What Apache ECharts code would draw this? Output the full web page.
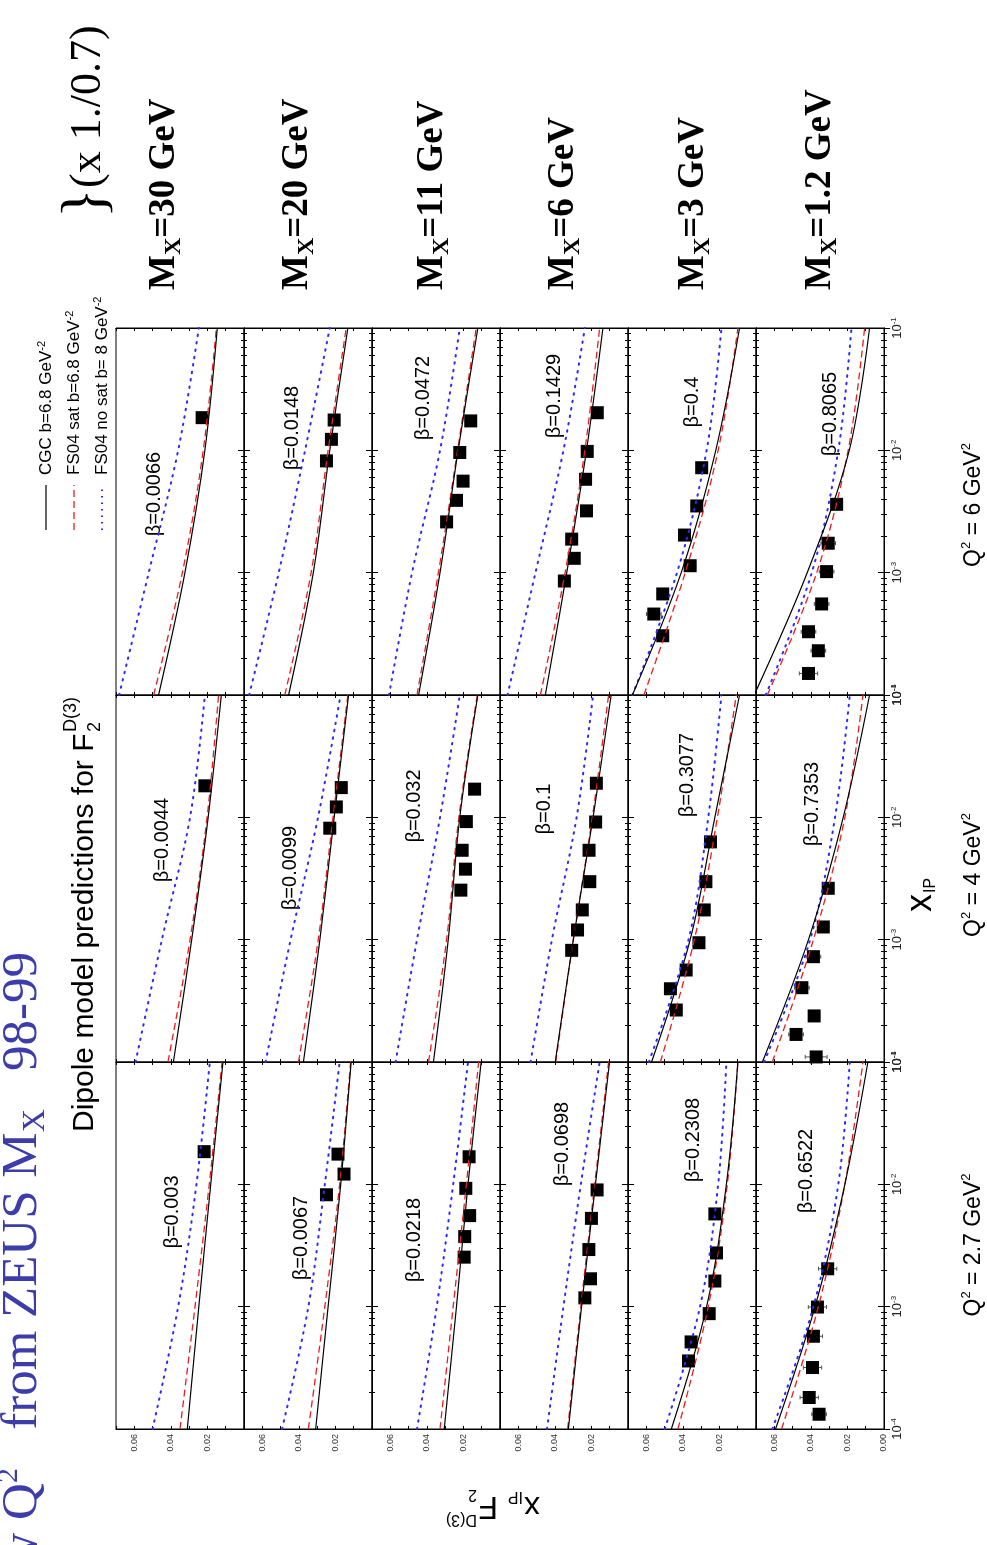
<!DOCTYPE html>
<html><head><meta charset="utf-8">
<script src="https://cdn.jsdelivr.net/npm/echarts@6/dist/echarts.min.js"></script>
<style>html,body{margin:0;padding:0;background:#fff}#c{width:987px;height:1545px}</style>
</head><body><div id="c"></div>
<script>
// ---------------- DATA ----------------
const q2Values = ['6', '4', '2.7'];              // blocks, top to bottom
const mxValues = ['30', '20', '11', '6', '3', '1.2']; // columns, left to right
const betaQ6  = ['0.0066', '0.0148', '0.0472', '0.1429', '0.4', '0.8065'];
const betaQ4  = ['0.0044', '0.0099', '0.032', '0.1', '0.3077', '0.7353'];
const betaQ27 = ['0.003', '0.0067', '0.0218', '0.0698', '0.2308', '0.6522'];
const xipGrid = [1e-4, 1e-3, 1e-2, 1e-1];
const valueTicks = [0, 0.02, 0.04, 0.06];

// model curves x_IP F2^D(3) at xipGrid, one row per M_X column
const cgcQ6 = [[0.0467,0.0323,0.0214,0.0146],[0.0456,0.0321,0.0231,0.0132],[0.0445,0.0328,0.0229,0.0121],[0.0452,0.0335,0.0227,0.0137],[0.0676,0.0409,0.0220,0.0090],[0.0710,0.0420,0.0190,0.0079]];
const satQ6 = [[0.0494,0.0337,0.0223,0.0151],[0.0477,0.0333,0.0240,0.0141],[0.0454,0.0337,0.0232,0.0130],[0.0479,0.0344,0.0236,0.0155],[0.0613,0.0387,0.0207,0.0099],[0.0638,0.0368,0.0196,0.0106]];
const nosatQ6 = [[0.0683,0.0521,0.0360,0.0247],[0.0672,0.0510,0.0366,0.0231],[0.0607,0.0481,0.0328,0.0220],[0.0659,0.0506,0.0353,0.0236],[0.0676,0.0432,0.0270,0.0189],[0.0647,0.0395,0.0250,0.0178]];
const cgcQ4 = [[0.0386,0.0286,0.0196,0.0124],[0.0375,0.0285,0.0207,0.0128],[0.0364,0.0283,0.0220,0.0121],[0.0398,0.0299,0.0191,0.0092],[0.0571,0.0360,0.0225,0.0090],[0.0665,0.0413,0.0223,0.0079]];
const satQ4 = [[0.0416,0.0295,0.0202,0.0139],[0.0402,0.0294,0.0213,0.0132],[0.0391,0.0292,0.0225,0.0124],[0.0395,0.0299,0.0195,0.0106],[0.0523,0.0337,0.0211,0.0108],[0.0611,0.0386,0.0214,0.0115]];
const nosatQ4 = [[0.0593,0.0449,0.0295,0.0214],[0.0582,0.0445,0.0295,0.0172],[0.0571,0.0454,0.0328,0.0220],[0.0533,0.0416,0.0281,0.0191],[0.0586,0.0369,0.0261,0.0189],[0.0656,0.0404,0.0268,0.0187]];
const cgcQ27 = [[0.0310,0.0247,0.0182,0.0115],[0.0308,0.0240,0.0171,0.0114],[0.0305,0.0238,0.0175,0.0103],[0.0326,0.0254,0.0178,0.0101],[0.0463,0.0270,0.0162,0.0099],[0.0593,0.0377,0.0214,0.0088]];
const satQ27 = [[0.0350,0.0268,0.0190,0.0120],[0.0348,0.0258,0.0177,0.0117],[0.0328,0.0256,0.0184,0.0117],[0.0330,0.0258,0.0182,0.0106],[0.0427,0.0261,0.0157,0.0099],[0.0560,0.0359,0.0214,0.0115]];
const nosatQ27 = [[0.0500,0.0360,0.0260,0.0187],[0.0492,0.0348,0.0258,0.0177],[0.0454,0.0346,0.0256,0.0175],[0.0443,0.0353,0.0258,0.0155],[0.0499,0.0306,0.0207,0.0162],[0.0611,0.0386,0.0250,0.0187]];

// ZEUS points: [x_IP, x_IP F2^D(3), error]
const dataQ6 = [
 [[0.0185,0.0229,0.002]],
 [[0.0177,0.0207,0.003],[0.0123,0.0222,0.002],[0.0082,0.0249,0.002]],
 [[0.0174,0.0160,0.003],[0.0096,0.0220,0.002],[0.0056,0.0202,0.002],[0.0039,0.0238,0.002],[0.0026,0.0292,0.002]],
 [[0.000855,0.0348,0.002],[0.00131,0.0294,0.002],[0.00188,0.0308,0.002],[0.0032,0.0227,0.002],[0.0058,0.0232,0.002],[0.0098,0.0223,0.002],[0.0203,0.0168,0.002]],
 [[0.000305,0.0510,0.003],[0.000459,0.0559,0.004],[0.00067,0.0510,0.003],[0.00114,0.0360,0.003],[0.00203,0.0391,0.003],[0.00351,0.0324,0.003],[0.00721,0.0297,0.002]],
 [[0.00015,0.0413,0.005],[0.00023,0.0359,0.004],[0.000329,0.0413,0.004],[0.000555,0.0341,0.004],[0.00102,0.0314,0.004],[0.00174,0.0305,0.004],[0.00362,0.0259,0.003]]
];
const dataQ4 = [
 [[0.0181,0.0214,0.002]],
 [[0.0175,0.0168,0.003],[0.01216,0.0195,0.002],[0.00815,0.0231,0.002]],
 [[0.0170,0.0139,0.002],[0.00923,0.0184,0.002],[0.00538,0.0207,0.002],[0.00377,0.0189,0.002],[0.00254,0.0214,0.002]],
 [[0.000818,0.0308,0.002],[0.0012,0.0276,0.002],[0.00175,0.0250,0.002],[0.00298,0.0209,0.002],[0.00538,0.0213,0.002],[0.00916,0.0177,0.002],[0.0190,0.0173,0.002]],
 [[0.000266,0.0436,0.003],[0.000397,0.0468,0.003],[0.000565,0.0382,0.003],[0.000944,0.0312,0.002],[0.00175,0.0283,0.002],[0.00298,0.0274,0.002],[0.0063,0.0249,0.002]],
 [[0.00011,0.0371,0.006],[0.000168,0.0481,0.004],[0.000238,0.0382,0.003],[0.000405,0.0449,0.004],[0.000726,0.0386,0.004],[0.00127,0.0332,0.003],[0.00263,0.0305,0.003]]
];
const dataQ27 = [
 [[0.0185,0.0218,0.003]],
 [[0.01766,0.0186,0.003],[0.01213,0.0153,0.002],[0.00822,0.0249,0.002]],
 [[0.00254,0.0196,0.002],[0.00374,0.0193,0.002],[0.00555,0.0166,0.002],[0.00927,0.0187,0.002],[0.0168,0.0169,0.002]],
 [[0.00118,0.0236,0.002],[0.00169,0.0205,0.002],[0.00293,0.0214,0.002],[0.00527,0.0200,0.002],[0.0090,0.0169,0.002]],
 [[0.00036,0.0369,0.002],[0.000515,0.0355,0.002],[0.000877,0.0256,0.002],[0.00162,0.0225,0.002],[0.00275,0.0216,0.002],[0.00573,0.0225,0.002]],
 [[0.000132,0.0355,0.004],[0.000181,0.0409,0.005],[0.000318,0.0391,0.005],[0.000573,0.0386,0.005],[0.000993,0.0364,0.005],[0.00204,0.0308,0.005]]
];

// ---------------- LAYOUT / STYLE ----------------
const L0 = 116, PW = 128, PH = 367, TOPS = [328, 695, 1062];
const betaPos = [
  [[154,494],[292,428],[423,398],[554,396],[692,402],[830,414]],
  [[162,840],[290,868],[414,806],[544,809],[687,775],[812,804]],
  [[172,1212],[301,1238],[414,1240],[562,1144],[693,1140],[806,1171]]
];
const mxX = [164, 297, 432, 563, 693, 820];
const SANS = 'Liberation Sans, Arial, sans-serif';
const SERIF = 'Liberation Serif, Times New Roman, serif';

const blocks = [
  {beta: betaQ6, cgc: cgcQ6, sat: satQ6, nosat: nosatQ6, data: dataQ6},
  {beta: betaQ4, cgc: cgcQ4, sat: satQ4, nosat: nosatQ4, data: dataQ4},
  {beta: betaQ27, cgc: cgcQ27, sat: satQ27, nosat: nosatQ27, data: dataQ27}
];

const grid = [], xAxis = [], yAxis = [], series = [], graphic = [];
let gi = 0;
blocks.forEach((blk, b) => {
  for (let c = 0; c < 6; c++) {
    grid.push({left: L0 + PW * c, top: TOPS[b], width: PW, height: PH,
      show: true, borderColor: '#000', borderWidth: 1, backgroundColor: 'transparent'});
    const lastCol = c === 5;
    const xBase = {type: 'value', gridIndex: gi, min: 0, max: 0.07, interval: 0.01, inverse: true,
      splitLine: {show: false},
      axisLine: {show: true, lineStyle: {color: '#000', width: 1}},
      axisTick: {show: true, inside: true, length: 3, lineStyle: {color: '#000'}}};
    xAxis.push(Object.assign({}, xBase, {position: 'bottom',
      axisLabel: {show: b === 2, rotate: 90, fontSize: 9, color: '#333', fontFamily: SANS, margin: 5,
        formatter: v => {
          const k = Math.round(v * 100);
          const idx = valueTicks.findIndex(t => Math.round(t * 100) === k);
          if (idx < 0) return '';
          if (k === 0 && !lastCol) return '';
          return valueTicks[idx].toFixed(2);
        }}}));
    xAxis.push(Object.assign({}, xBase, {position: 'top', axisLabel: {show: false}}));
    const yBase = {type: 'log', logBase: 10, gridIndex: gi, min: 1e-4, max: 1e-1,
      splitLine: {show: false},
      axisLine: {show: true, lineStyle: {color: '#000', width: 1}},
      axisTick: {show: true, inside: true, length: 6, lineStyle: {color: '#000'}},
      minorTick: {show: true, splitNumber: 9, length: 3, lineStyle: {color: '#000'}}};
    yAxis.push(Object.assign({}, yBase, {position: 'right',
      axisLabel: {show: lastCol, rotate: 90, margin: 6, showMaxLabel: b === 0, showMinLabel: true,
        formatter: v => '{b|10}{s|' + Math.round(Math.log10(v)) + '}',
        rich: {b: {fontSize: 13, fontFamily: SANS, color: '#222'},
               s: {fontSize: 8, fontFamily: SANS, color: '#222', verticalAlign: 'top', padding: [0, 0, 7, 0]}}}}));
    yAxis.push(Object.assign({}, yBase, {position: 'left', axisLabel: {show: false}}));

    const xa = 2 * gi, ya = 2 * gi;
    const mk = (arr) => xipGrid.map((x, i) => [arr[i], x]);
    series.push({type: 'line', xAxisIndex: xa, yAxisIndex: ya, data: mk(blk.nosat[c]), symbol: 'none',
      smooth: 0.35, clip: true, silent: true,
      lineStyle: {color: '#2b2bff', width: 2, type: [1.5, 6], cap: 'round'}});
    series.push({type: 'line', xAxisIndex: xa, yAxisIndex: ya, data: mk(blk.sat[c]), symbol: 'none',
      smooth: 0.35, clip: true, silent: true,
      lineStyle: {color: '#ee1c1c', width: 1.3, type: [7, 4]}});
    series.push({type: 'line', xAxisIndex: xa, yAxisIndex: ya, data: mk(blk.cgc[c]), symbol: 'none',
      smooth: 0.35, clip: true, silent: true,
      lineStyle: {color: '#000', width: 1.2}});
    const pts = blk.data[c].map(p => [p[1], p[0], p[2]]);
    series.push({type: 'custom', xAxisIndex: xa, yAxisIndex: ya, data: pts, silent: true,
      encode: {x: 0, y: 1},
      renderItem: (params, api) => {
        const F = api.value(0), x = api.value(1), e = api.value(2);
        const a = api.coord([F - e, x]), q = api.coord([F + e, x]);
        const st = {stroke: '#555', lineWidth: 1};
        return {type: 'group', children: [
          {type: 'line', shape: {x1: a[0], y1: a[1], x2: q[0], y2: q[1]}, style: st},
          {type: 'line', shape: {x1: a[0], y1: a[1] - 2, x2: a[0], y2: a[1] + 2}, style: st},
          {type: 'line', shape: {x1: q[0], y1: q[1] - 2, x2: q[0], y2: q[1] + 2}, style: st}
        ]};
      }});
    series.push({type: 'scatter', xAxisIndex: xa, yAxisIndex: ya, data: pts.map(p => [p[0], p[1]]),
      symbol: 'rect', symbolSize: 13, silent: true, itemStyle: {color: '#000', opacity: 1}});

    graphic.push({type: 'text', x: betaPos[b][c][0], y: betaPos[b][c][1], rotation: Math.PI / 2, silent: true,
      style: {text: 'β=' + blk.beta[c], fontSize: 20, fontFamily: SANS, fill: '#000', align: 'center', verticalAlign: 'middle'}});
    gi++;
  }
});

// M_X labels
mxValues.forEach((m, c) => {
  graphic.push({type: 'text', x: mxX[c], y: 290, rotation: Math.PI / 2, silent: true,
    style: {text: '{m|M}{s|X}{m|=' + m + ' GeV}', align: 'left', verticalAlign: 'middle',
      rich: {m: {fontSize: 37, fontFamily: SERIF, fontWeight: 'bold', fill: '#000', lineHeight: 44},
             s: {fontSize: 24, fontFamily: SERIF, fontWeight: 'bold', fill: '#000', verticalAlign: 'bottom', lineHeight: 24}}}});
});

// Q^2 labels
const q2Y = [505, 875, 1245];
q2Values.forEach((q, b) => {
  graphic.push({type: 'text', x: 974, y: q2Y[b], rotation: Math.PI / 2, silent: true,
    style: {text: '{m|Q}{p|2}{m| = ' + q + ' GeV}{p|2}', align: 'center', verticalAlign: 'middle',
      rich: {m: {fontSize: 23, fontFamily: SANS, fill: '#000', lineHeight: 28},
             p: {fontSize: 13, fontFamily: SANS, fill: '#000', verticalAlign: 'top', lineHeight: 14}}}});
});

// x_IP axis title
graphic.push({type: 'group', x: 921, y: 912, rotation: Math.PI / 2, silent: true, children: [
  {type: 'text', x: 0, y: 0, style: {text: 'x', fontSize: 36, fontFamily: SANS, fill: '#000', align: 'left', verticalAlign: 'middle'}},
  {type: 'text', x: 19, y: 10, style: {text: 'IP', fontSize: 16, fontFamily: SANS, fill: '#000', align: 'left', verticalAlign: 'middle'}}
]});

// y axis title (upside down)
graphic.push({type: 'group', x: 540, y: 1506, rotation: Math.PI, silent: true, children: [
  {type: 'text', x: 0, y: 0, style: {text: 'x', fontSize: 32, fontFamily: SANS, fill: '#000', align: 'left', verticalAlign: 'middle'}},
  {type: 'text', x: 17, y: 10, style: {text: 'IP', fontSize: 16, fontFamily: SANS, fill: '#000', align: 'left', verticalAlign: 'middle'}},
  {type: 'text', x: 42, y: 0, style: {text: 'F', fontSize: 32, fontFamily: SANS, fill: '#000', align: 'left', verticalAlign: 'middle'}},
  {type: 'text', x: 63, y: 12, style: {text: '2', fontSize: 16, fontFamily: SANS, fill: '#000', align: 'left', verticalAlign: 'middle'}},
  {type: 'text', x: 63, y: -13, style: {text: 'D(3)', fontSize: 16, fontFamily: SANS, fill: '#000', align: 'left', verticalAlign: 'middle'}}
]});

// Plot title
graphic.push({type: 'group', x: 85, y: 1132, rotation: Math.PI / 2, silent: true, children: [
  {type: 'text', x: 0, y: 0, style: {text: 'Dipole model predictions for F', fontSize: 30, fontFamily: SANS, fill: '#000', align: 'left', verticalAlign: 'middle'}},
  {type: 'text', x: 400, y: 10, style: {text: '2', fontSize: 18, fontFamily: SANS, fill: '#000', align: 'left', verticalAlign: 'middle'}},
  {type: 'text', x: 400, y: -14, style: {text: 'D(3)', fontSize: 18, fontFamily: SANS, fill: '#000', align: 'left', verticalAlign: 'middle'}}
]});

// Slide title (cut at the bottom edge)
graphic.push({type: 'text', x: 23, y: 952, rotation: Math.PI / 2, silent: true,
  style: {text: '{m|w Q}{p|2}{m|   from ZEUS M}{s|X}{m|   98-99}', align: 'right', verticalAlign: 'middle',
    rich: {m: {fontSize: 51, fontFamily: SERIF, fill: '#3c3caa', lineHeight: 58},
           p: {fontSize: 30, fontFamily: SERIF, fill: '#3c3caa', verticalAlign: 'top', lineHeight: 30},
           s: {fontSize: 32, fontFamily: SERIF, fill: '#3c3caa', verticalAlign: 'bottom', lineHeight: 32}}}});

// Legend with annotation brace
const legendItems = [
  {name: 'CGC b=6.8 GeV', color: '#000', dash: null, w: 1.2},
  {name: 'FS04 sat b=6.8 GeV', color: '#ee1c1c', dash: [7, 4], w: 1.3},
  {name: 'FS04 no sat b= 8 GeV', color: '#2b2bff', dash: [1.5, 5], w: 2}
];
const legChildren = [];
legendItems.forEach((it, i) => {
  legChildren.push({type: 'line', shape: {x1: 0, y1: i * 28, x2: 45, y2: i * 28},
    style: {stroke: it.color, lineWidth: it.w, lineDash: it.dash}});
  legChildren.push({type: 'text', x: 55, y: i * 28, style: {text: '{m|' + it.name + '}{p|-2}', align: 'left', verticalAlign: 'middle',
    rich: {m: {fontSize: 17, fontFamily: SANS, fill: '#000', lineHeight: 20}, p: {fontSize: 11, fontFamily: SANS, fill: '#000', verticalAlign: 'top', lineHeight: 11}}}});
});
legChildren.push({type: 'text', x: 312, y: 42, style: {text: '}', fontSize: 62, fontFamily: SERIF, fill: '#000', align: 'left', verticalAlign: 'middle'}});
legChildren.push({type: 'text', x: 342, y: 42, style: {text: '(x 1./0.7)', fontSize: 44, fontFamily: SERIF, fill: '#000', align: 'left', verticalAlign: 'middle'}});
graphic.push({type: 'group', x: 46, y: 530, rotation: Math.PI / 2, silent: true, children: legChildren});

const chart = echarts.init(document.getElementById('c'), null, {renderer: 'canvas'});
chart.setOption({animation: false, backgroundColor: '#fff', grid, xAxis, yAxis, series, graphic});
</script></body></html>
